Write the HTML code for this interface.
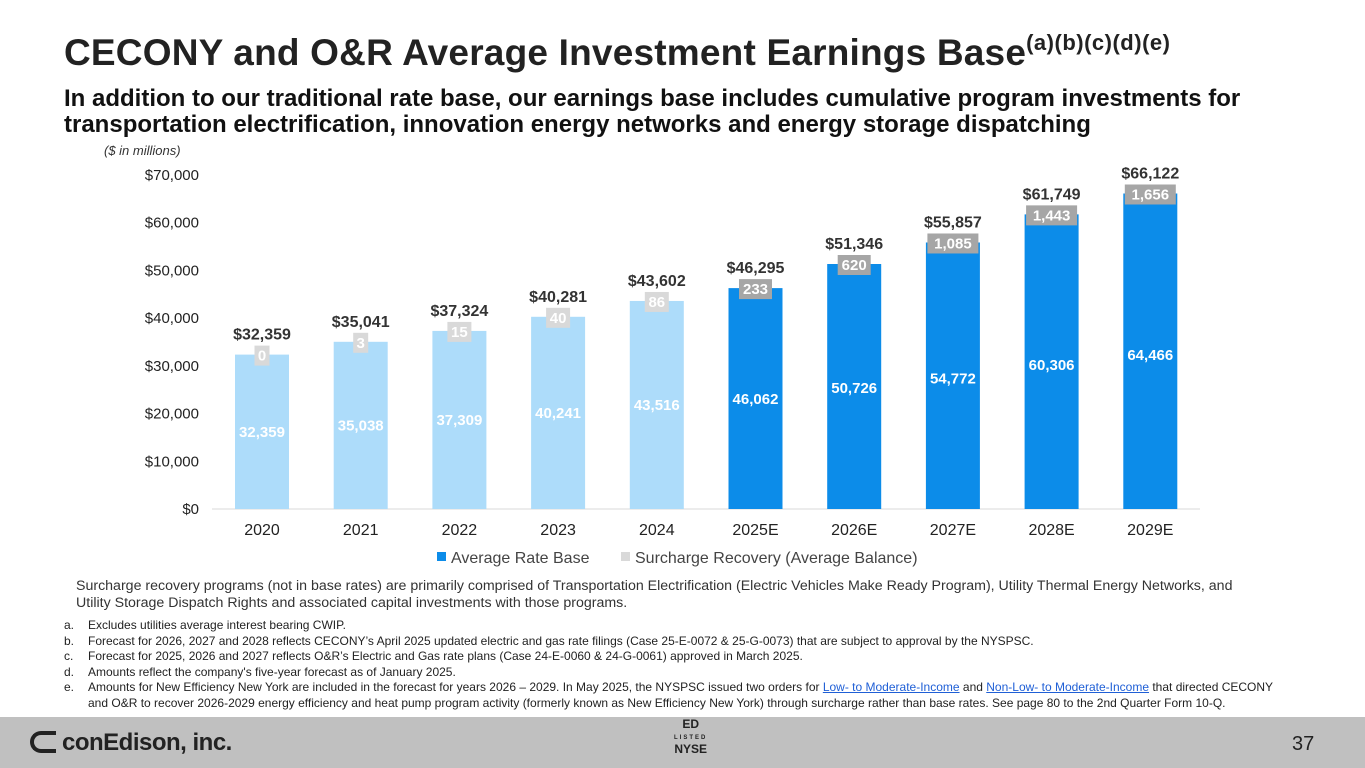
<!DOCTYPE html>
<html><head><meta charset="utf-8"><style>
body{margin:0;width:1365px;height:768px;overflow:hidden;background:#fff;font-family:"Liberation Sans",Arial,sans-serif;position:relative}
.t{position:absolute;margin:0}
</style></head><body>
<div class="t" style="left:64px;top:32px;font-size:37px;font-weight:bold;color:#222;letter-spacing:0.2px;white-space:nowrap">CECONY and O&amp;R Average Investment Earnings Base<sup style="font-size:22px;position:relative;top:-2px;vertical-align:top;letter-spacing:0.5px">(a)(b)(c)(d)(e)</sup></div>
<div class="t" style="left:64px;top:86px;font-size:24px;font-weight:bold;color:#111;line-height:26px;white-space:nowrap">In addition to our traditional rate base, our earnings base includes cumulative program investments for<br>transportation electrification, innovation energy networks and energy storage dispatching</div>
<div class="t" style="left:104px;top:143px;font-size:13px;font-style:italic;color:#333">($ in millions)</div>
<svg id="chart" width="1365" height="580" style="position:absolute;left:0;top:0"></svg>
<div class="t" style="left:76px;top:578px;font-size:14.2px;color:#333;line-height:17px;white-space:nowrap">Surcharge recovery programs (not in base rates) are primarily comprised of Transportation Electrification (Electric Vehicles Make Ready Program), Utility Thermal Energy Networks, and<br>Utility Storage Dispatch Rights and associated capital investments with those programs.</div>
<div class="t" style="left:64px;top:618px;font-size:12px;color:#222;line-height:15.5px;width:1280px">
<div style="display:flex"><span style="width:24px">a.</span><span>Excludes utilities average interest bearing CWIP.</span></div>
<div style="display:flex"><span style="width:24px">b.</span><span>Forecast for 2026, 2027 and 2028 reflects CECONY’s April 2025 updated electric and gas rate filings (Case 25-E-0072 &amp; 25-G-0073) that are subject to approval by the NYSPSC.</span></div>
<div style="display:flex"><span style="width:24px">c.</span><span>Forecast for 2025, 2026 and 2027 reflects O&amp;R’s Electric and Gas rate plans (Case 24-E-0060 &amp; 24-G-0061) approved in March 2025.</span></div>
<div style="display:flex"><span style="width:24px">d.</span><span>Amounts reflect the company's five-year forecast as of January 2025.</span></div>
<div style="display:flex"><span style="width:24px;flex:none">e.</span><span>Amounts for New Efficiency New York are included in the forecast for years 2026 – 2029. In May 2025, the NYSPSC issued two orders for <span style="color:#1f5fd6;text-decoration:underline">Low- to Moderate-Income</span> and <span style="color:#1f5fd6;text-decoration:underline">Non-Low- to Moderate-Income</span> that directed CECONY<br>and O&amp;R to recover 2026-2029 energy efficiency and heat pump program activity (formerly known as New Efficiency New York) through surcharge rather than base rates. See page 80 to the 2nd Quarter Form 10-Q.</span></div>
</div>
<div style="position:absolute;left:0;top:717px;width:1365px;height:51px;background:#c0c0c0">
<div style="position:absolute;left:30px;top:12px;font-size:24px;font-weight:bold;color:#222;letter-spacing:-0.5px"><span style="display:inline-block;width:26px;height:22px;border:4px solid #222;border-right:none;border-radius:14px 0 0 14px;box-sizing:border-box;vertical-align:-3px;margin-right:6px"></span>conEdison, inc.</div>
<div style="position:absolute;left:674px;top:2px;font-size:12px;font-weight:bold;color:#222;text-align:center;line-height:11px">ED<br><span style="font-size:6px;letter-spacing:2px">LISTED</span><br>NYSE</div>
<div style="position:absolute;left:1292px;top:16px;font-size:20px;color:#222">37</div>
</div>
<script>
const categories=["2020","2021","2022","2023","2024","2025E","2026E","2027E","2028E","2029E"];
const rateBase=[32359,35038,37309,40241,43516,46062,50726,54772,60306,64466];
const surcharge=[0,3,15,40,86,233,620,1085,1443,1656];
const totals=[32359,35041,37324,40281,43602,46295,51346,55857,61749,66122];
const yTicks=[0,10000,20000,30000,40000,50000,60000,70000];
const NS="http://www.w3.org/2000/svg";
const svg=document.getElementById('chart');
const y=v=>509-v*334/70000;
const x=i=>262+i*98.7;
const bw=54;
function el(t,a,txt){const e=document.createElementNS(NS,t);for(const k in a)e.setAttribute(k,a[k]);if(txt!==undefined)e.textContent=txt;svg.appendChild(e);return e;}
const base=el('line',{x1:212,x2:1200,y1:y(0),y2:y(0),stroke:'#d9d9d9'});


yTicks.forEach(v=>{
 const t=el('text',{x:199,y:y(v)+5,'text-anchor':'end','font-size':15,fill:'#222'},'$'+v.toLocaleString('en-US'));
 
 
});
categories.forEach((c,i)=>{
 const fc=i<5?'#addcfa':'#0c8ce9';
 const r=el('rect',{x:x(i)-bw/2,y:y(totals[i]),width:bw,height:y(0)-y(totals[i]),fill:fc});
 
 
 const ml=el('text',{x:x(i),y:y(rateBase[i]/2)+5,'text-anchor':'middle','font-size':15,'font-weight':'bold',fill:'#fff'},rateBase[i].toLocaleString('en-US'));
 
 
 const s=surcharge[i].toLocaleString('en-US');
 const w=s.length*9+6;
 const top=y(totals[i]);
 const b=el('rect',{x:x(i)-w/2,y:top-9,width:w,height:20,fill:i<5?'#d9d9d9':'#a6a6a6'});
 
 
 const sl=el('text',{x:x(i),y:top+6,'text-anchor':'middle','font-size':15,'font-weight':'bold',fill:'#fff'},s);
 
 
 const tl=el('text',{x:x(i),y:top-15,'text-anchor':'middle','font-size':16,'font-weight':'bold',fill:'#333'},'$'+totals[i].toLocaleString('en-US'));
 
 
 const cl=el('text',{x:x(i),y:535,'text-anchor':'middle','font-size':16,fill:'#222'},c);
 
 
});
const l1=el('rect',{x:437,y:552,width:9,height:9,fill:'#0c8ce9'});


const l1t=el('text',{x:451,y:563,'font-size':16,fill:'#444'},'Average Rate Base');


const l2=el('rect',{x:621,y:552,width:9,height:9,fill:'#d9d9d9'});


const l2t=el('text',{x:635,y:563,'font-size':16,fill:'#444'},'Surcharge Recovery (Average Balance)');


</script>
</body></html>
